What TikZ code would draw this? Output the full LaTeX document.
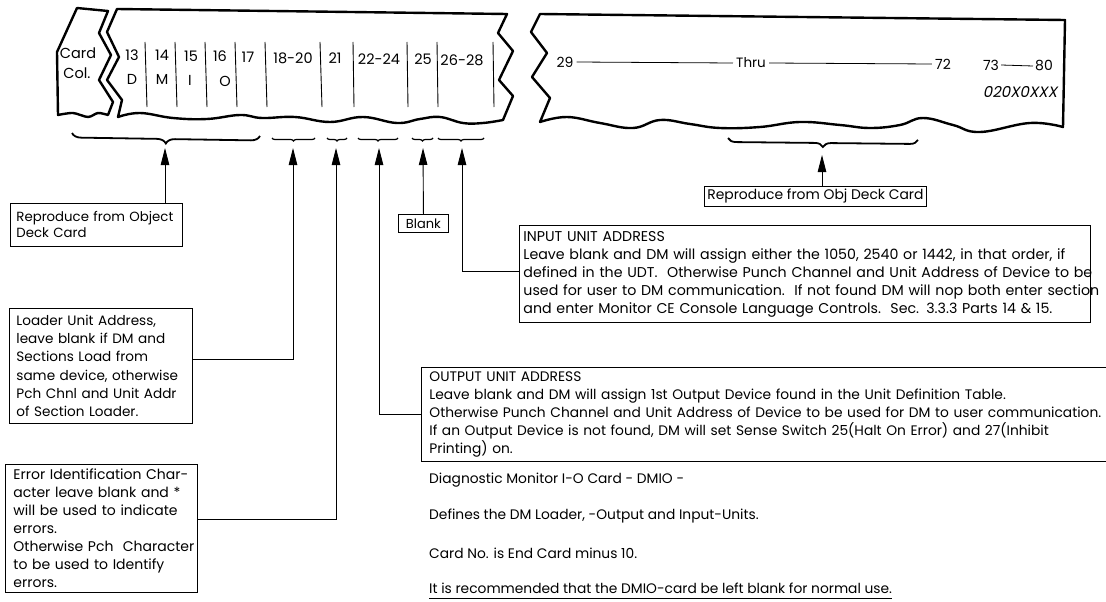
\documentclass[tikz,border=0pt]{standalone}
\usepackage{fontspec}
\setmainfont{Poppins}
\newfontfamily\slantfont[FakeSlant=0.2]{Poppins}
\usetikzlibrary{arrows.meta,decorations.pathreplacing}
\newcommand\oneline[1]{\mbox{#1}}
\begin{document}
\begin{tikzpicture}[x=1pt,y=-1pt,
  card/.style={line width=2.4pt, line join=round, line cap=round},
  col/.style={line width=0.9pt},
  brc/.style={line width=1.8pt, decorate, decoration={brace, mirror, amplitude=#1}},
  sbrc/.style={line width=1.2pt, decorate, decoration={brace, mirror, amplitude=#1}},
  arr/.style={line width=0.9pt, -{Triangle[length=17pt,width=8.5pt]}},
  box/.style={draw, line width=0.9pt, anchor=north west, align=left, inner ysep=0pt},
  cardtxt/.style={font=\fontsize{14.5}{16}\selectfont, inner sep=0pt},
  rtxt/.style={font=\fontsize{14}{16}\selectfont, inner sep=0pt},
  note/.style={anchor=west, inner sep=0pt, font=\fontsize{13.8}{16}\selectfont},
]
\clip (0,0) rectangle (1106,602);
% ---------- card pieces ----------
\draw[card] (77,8) -- (108,11) -- (99,33) -- (111,55) -- (99,80) -- (113,102) -- (108,115)
  -- plot[smooth] coordinates {(108,115) (98,113) (88,117) (73,113) (58,115)} -- (57,52) -- cycle;
\draw[card] (117,9) -- (507,14) -- (498,33) -- (513,51) -- (499,80) -- (513,96) -- (503,120)
  -- plot[smooth, tension=0.7] coordinates {(503,120) (483,123) (463,123) (440,117) (420,119) (397,123) (363,117) (330,122) (295,117) (262,118) (240,115) (207,119) (173,118) (140,113) (118,117)}
  -- (122,100) -- (107,80) -- (119,57) -- (107,32) -- cycle;
\draw[card] (540,14) -- (1065,20) -- (1063,127)
  -- plot[smooth, tension=0.7] coordinates {(1063,127) (1030,123) (980,132) (953,125) (923,118) (900,125) (870,128) (840,125) (800,122) (760,127) (720,128) (690,124) (660,120) (633,128) (600,123) (567,117) (540,122)}
  -- (550,98) -- (532,77) -- (547,53) -- (531,32) -- cycle;
% column dividers
\foreach \a/\b in {145/147, 175/177, 205/207, 235/237, 265/267, 320/322, 353/354, 407/408, 437/438, 493/494}
  \draw[col] (\a,42) -- (\b,107);
% card labels
\node[cardtxt] (cc1) at (78,53) {Card};
\node[cardtxt] (cc2) at (77,73) {Col.};
\node[cardtxt] (c13) at (132,55) {13};
\node[cardtxt] (c14) at (162,55) {14};
\node[cardtxt] (c15) at (191,56) {15};
\node[cardtxt] (c16) at (220,56) {16};
\node[cardtxt] (c17) at (248,57) {17};
\node[cardtxt] (c18) at (293,58) {18-20};
\node[cardtxt] (c21) at (335,58) {21};
\node[cardtxt] (c22) at (379,59) {22-24};
\node[cardtxt] (c25) at (423,59) {25};
\node[cardtxt] (c26) at (462,60) {26-28};
\node[cardtxt] (lD) at (132,79) {D};
\node[cardtxt] (lM) at (162,79) {M};
\node[cardtxt] (lI) at (190,80) {I};
\node[cardtxt] (lO) at (225,81) {O};
% right piece labels
\node[rtxt] (r29) at (565,62) {29};
\node[font=\fontsize{13.5}{15}\selectfont, inner sep=0pt] (thru) at (751,63) {Thru};
\node[rtxt] (r72) at (943,64) {72};
\node[rtxt] (r73) at (991,65) {73};
\node[rtxt] (r80) at (1044,66) {80};
\node[rtxt, font=\fontsize{15}{16}\slantfont] (code) at (1020,92) {020X0XXX};
\draw[line width=0.8pt] ([xshift=3pt]r29.east) -- ([xshift=-3pt]thru.west);
\draw[line width=0.8pt] ([xshift=3pt]thru.east) -- ([xshift=-3pt]r72.west);
\draw[line width=0.8pt] ([xshift=2pt]r73.east) -- ([xshift=-2pt]r80.west);
% ---------- braces ----------
\draw[brc=9] (72,133) -- (260,136);
\draw[sbrc=3] (272,138) -- (315,138);
\draw[sbrc=3] (327,138) -- (347,138);
\draw[sbrc=3] (358,138) -- (398,138);
\draw[sbrc=3] (412,138) -- (433,138);
\draw[sbrc=3] (438,138) -- (484,138);
\draw[brc=8] (728,138) -- (918,140);
% arrow tips
\coordinate (t13) at (165,148);
\coordinate (t18) at (293,148);
\coordinate (t21) at (336,148);
\coordinate (t22) at (379,148);
\coordinate (t25) at (423,148);
\coordinate (t26) at (462,148);
\coordinate (t29) at (822,155);
% ---------- boxes ----------
\node[box, minimum width=172pt, minimum height=43pt, text width=160pt, inner xsep=6pt,
  font=\fontsize{13.3}{16}\selectfont] (obj1) at (10,203)
  {\oneline{Reproduce from Object}\\Deck Card};
\node[box, minimum width=183pt, minimum height=115pt, text width=169pt, inner xsep=7pt,
  font=\fontsize{13.6}{18.3}\selectfont] (loader) at (9,308)
  {\oneline{Loader Unit Address,}\\\oneline{leave blank if DM and}\\\oneline{Sections Load from}\\\oneline{same device, otherwise}\\\oneline{Pch Chnl and Unit Addr}\\\oneline{of Section Loader.}};
\node[box, minimum width=192pt, minimum height=128pt, text width=176pt, inner xsep=8pt,
  font=\fontsize{14}{18}\selectfont] (err) at (5,464)
  {\oneline{Error Identification Char-}\\\oneline{acter leave blank and *}\\\oneline{will be used to indicate}\\errors.\\\oneline{Otherwise Pch\ \ Character}\\\oneline{to be used to Identify}\\errors.};
\node[box, minimum width=50pt, minimum height=18pt, inner xsep=2pt, align=center,
  font=\fontsize{13}{16}\selectfont] (blank) at (398,214) {Blank};
\node[box, minimum width=571pt, minimum height=97pt, text width=563pt, inner xsep=4pt,
  font=\fontsize{14.2}{18}\selectfont] (input) at (519,225)
  {INPUT UNIT ADDRESS\\\oneline{Leave blank and DM will assign either the 1050, 2540 or 1442, in that order, if}\\\oneline{defined in the UDT.\ \ Otherwise Punch Channel and Unit Address of Device to be}\\\oneline{used for user to DM communication.\ \ If not found DM will nop both enter section}\\\oneline{and enter Monitor CE Console Language Controls.\ \ Sec. 3.3.3 Parts 14 \& 15.}};
\node[box, minimum width=700pt, minimum height=94pt, text width=684pt, inner xsep=8pt,
  font=\fontsize{13.8}{18.2}\selectfont] (output) at (421,367)
  {OUTPUT UNIT ADDRESS\\\oneline{Leave blank and DM will assign 1st Output Device found in the Unit Definition Table.}\\\oneline{Otherwise Punch Channel and Unit Address of Device to be used for DM to user communication.}\\\oneline{If an Output Device is not found, DM will set Sense Switch 25(Halt On Error) and 27(Inhibit}\\Printing) on.};
\node[box, minimum width=222pt, minimum height=20pt, inner xsep=2pt, align=center,
  font=\fontsize{13.9}{16}\selectfont] (obj2) at (704,186) {Reproduce from Obj Deck Card};
% ---------- connectors ----------
\draw[arr] (obj1.north -| t13) -- (t13);
\draw[arr] ([yshift=6.5pt]loader.east) -| (t18);
\draw[arr] ([yshift=9pt]err.east) -| (t21);
\draw[arr] (output.west) -| (t22);
\draw[arr] (blank.north) -- (t25);
\draw[arr] ([yshift=2.5pt]input.west) -| (t26);
\draw[arr] (obj2.north -| t29) -- (t29);
% ---------- notes ----------
\node[note] (n1) at (429,480) {Diagnostic Monitor I-O Card - DMIO -};
\node[note] (n2) at (429,516) {Defines the DM Loader, -Output and Input-Units.};
\node[note] (n3) at (429,553) {Card No. is End Card minus 10.};
\node[note] (n4) at (429,588) {It is recommended that the DMIO-card be left blank for normal use.};
\draw[line width=0.9pt] ([yshift=-5pt]n4.base west) -- ([yshift=-5pt]n4.base east);
\end{tikzpicture}
\end{document}
